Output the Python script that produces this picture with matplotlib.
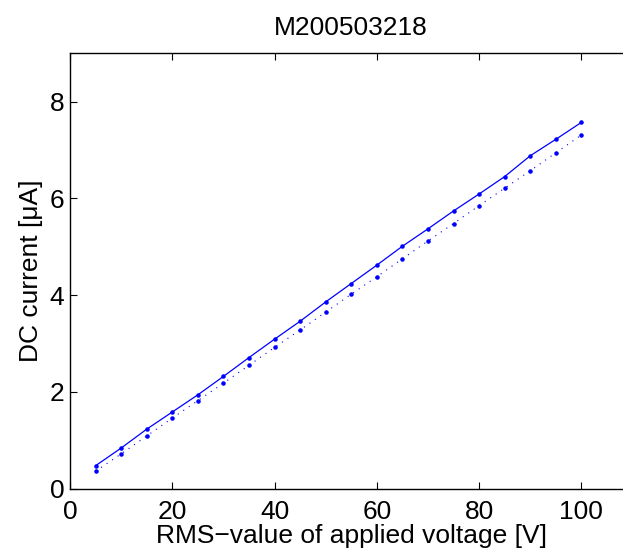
import matplotlib
matplotlib.use("Agg")
import matplotlib.pyplot as plt

plt.rcParams['font.family'] = ['Liberation Sans', 'DejaVu Sans']

# applied RMS voltage [V]
voltage = [5, 10, 15, 20, 25, 30, 35, 40, 45, 50,
           55, 60, 65, 70, 75, 80, 85, 90, 95, 100]
# DC current [uA], upper series (solid)
current_a = [0.475, 0.84, 1.23, 1.585, 1.94, 2.32, 2.71, 3.09, 3.46, 3.86,
             4.24, 4.62, 5.01, 5.37, 5.74, 6.09, 6.45, 6.88, 7.22, 7.57]
# DC current [uA], lower series (dotted)
current_b = [0.36, 0.72, 1.09, 1.46, 1.82, 2.18, 2.55, 2.92, 3.28, 3.65,
             4.02, 4.38, 4.75, 5.12, 5.48, 5.85, 6.21, 6.57, 6.94, 7.31]

x_ticks = [0, 20, 40, 60, 80, 100]
y_ticks = [0, 2, 4, 6, 8]

W, H = 623, 556
fig = plt.figure(figsize=(W / 100, H / 100), dpi=100)
# axes box runs past the right edge of the picture
left, right, bottom, top = 70, 632.5, 488.7, 53.2
ax = fig.add_axes([left / W, (H - bottom) / H, (right - left) / W, (bottom - top) / H])

ax.plot(voltage, current_a, color='b', linestyle='-', linewidth=0.9,
        marker='.', markersize=4.5)
ax.plot(voltage, current_b, color='b', linestyle=(0, (1, 5)), linewidth=0.8,
        marker='.', markersize=4.5)

ax.set_xlim(0, 110)
ax.set_ylim(0, 9)
ax.set_xticks(x_ticks)
ax.set_yticks(y_ticks)
ax.tick_params(direction='in', length=5, width=0.8, top=True, right=False,
               labelsize=19)
ax.tick_params(axis='x', pad=8)
ax.tick_params(axis='y', pad=4)
for s in ax.spines.values():
    s.set_linewidth(1.0)
ax.spines['right'].set_visible(False)

ax.set_xlabel("RMS\u2212value of applied voltage [V]", fontsize=19, labelpad=0)
ax.set_ylabel("DC current [\u03bcA]", fontsize=19, labelpad=5)
ax.set_title("M200503218", fontsize=19, pad=13)

fig.savefig("out.png", dpi=100)
